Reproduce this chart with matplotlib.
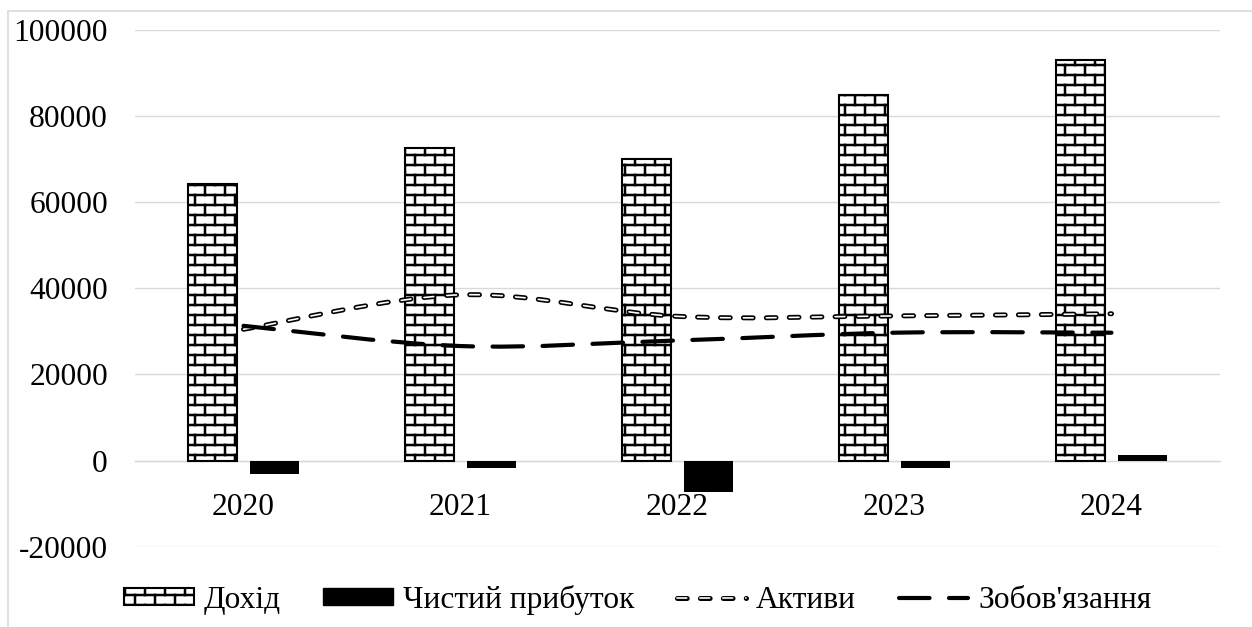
import warnings
import numpy as np
import matplotlib
matplotlib.use('Agg')
import matplotlib.pyplot as plt
from matplotlib import hatch as mhatch
from matplotlib.path import Path
from matplotlib.patches import PathPatch, Patch, Rectangle
from matplotlib.lines import Line2D

warnings.filterwarnings('ignore')

years = ['2020', '2021', '2022', '2023', '2024']
income = [64300, 72700, 70100, 84800, 93000]
net_profit = [-3100, -1800, -7400, -1700, 1400]
assets = [30500, 38500, 33500, 33600, 34100]
liabilities = [31300, 26600, 27900, 29700, 29700]
yticks = [-20000, 0, 20000, 40000, 60000, 80000, 100000]


# brick hatch: 'b' in the hatch string
class BrickHatch(mhatch.HatchPatternBase):
    def __init__(self, hatch, density):
        self.rows = 10 if 'b' in hatch else 0
        self.bricks = 5
        self.num_vertices = 0 if self.rows == 0 else (12 * self.rows + 10)

    def set_vertices_and_codes(self, vertices, codes):
        n, m = self.rows, self.bricks
        h = 1.0 / n
        segs = []
        ys = [(r + 0.5) * h for r in range(n)]
        for y in ys:
            segs.append(((0, y), (1, y)))
        for r in range(n):
            off = 0.25 if r % 2 == 0 else 0.75
            for c in range(m):
                x = (c + off) / m
                if r < n - 1:
                    segs.append(((x, ys[r]), (x, ys[r + 1])))
                else:
                    segs.append(((x, ys[r]), (x, 1.0)))
                    segs.append(((x, 0.0), (x, ys[0])))
        k = 0
        for a, b in segs:
            vertices[k] = a
            vertices[k + 1] = b
            codes[k] = Path.MOVETO
            codes[k + 1] = Path.LINETO
            k += 2


mhatch._hatch_types.append(BrickHatch)


def smooth_path(xs, ys):
    pts = list(zip(xs, ys))
    n = len(pts)
    verts = [pts[0]]
    codes = [Path.MOVETO]
    for i in range(n - 1):
        p0 = pts[i - 1] if i > 0 else pts[i]
        p1 = pts[i]
        p2 = pts[i + 1]
        p3 = pts[i + 2] if i + 2 < n else pts[i + 1]
        c1 = (p1[0] + (p2[0] - p0[0]) / 6, p1[1] + (p2[1] - p0[1]) / 6)
        c2 = (p2[0] - (p3[0] - p1[0]) / 6, p2[1] - (p3[1] - p1[1]) / 6)
        verts += [c1, c2, p2]
        codes += [Path.CURVE4] * 3
    return Path(verts, codes)


plt.rcParams['font.family'] = ['Liberation Serif', 'DejaVu Serif']
plt.rcParams['font.size'] = 22.7
plt.rcParams['axes.unicode_minus'] = False
plt.rcParams['hatch.linewidth'] = 1.8
plt.rcParams['lines.scale_dashes'] = False

fig = plt.figure(figsize=(12.52, 6.27), dpi=100)
ax = fig.add_axes([135 / 1252, 1 - 546.7 / 627, 1085 / 1252, 516.7 / 627])

x = np.arange(len(years))
w = 0.226
off = 0.143
ax.bar(x - off, income, w, facecolor='white', edgecolor='black', linewidth=1.5,
       hatch='b', zorder=3)
ax.bar(x + off, net_profit, w, color='black', zorder=3)

# Активи: hollow dashed line
a_dash = (7.0, 9.5)
ax.add_patch(PathPatch(smooth_path(x, assets), fill=False, edgecolor='black',
                       linewidth=3.6, linestyle=(0, a_dash), capstyle='round', zorder=4))
ax.add_patch(PathPatch(smooth_path(x, assets), fill=False, edgecolor='white',
                       linewidth=1.2, linestyle=(0, a_dash), capstyle='round', zorder=4.1))
# Зобов'язання: long dashes
l_dash = (22, 14)
ax.add_patch(PathPatch(smooth_path(x, liabilities), fill=False, edgecolor='black',
                       linewidth=3.0, linestyle=(0, l_dash), capstyle='round', zorder=4.2))

ax.set_xlim(-0.5, len(years) - 0.5)
ax.set_ylim(-20000, 100000)
ax.set_yticks(yticks)
ax.set_yticklabels([str(v) for v in yticks])
ax.set_xticks(x)
ax.set_xticklabels(years)
ax.tick_params(axis='y', length=0, pad=19.5)
ax.tick_params(axis='x', length=0, pad=23)
ax.grid(axis='y', color='#d9d9d9', linewidth=1.0)
ax.set_axisbelow(True)
for s in ['left', 'right', 'top']:
    ax.spines[s].set_visible(False)
ax.spines['bottom'].set_position(('data', 0))
ax.spines['bottom'].set_color('#d9d9d9')
ax.spines['bottom'].set_linewidth(1.0)

# outer chart border (only left/top visible in crop)
fig.patches.append(Rectangle((8 / 1252, -0.2), 2, 1.2 - 11 / 627, transform=fig.transFigure,
                             fill=False, edgecolor='#d9d9d9', linewidth=1.2))

h_income = Patch(facecolor='white', edgecolor='black', linewidth=1.5, hatch='b')
h_profit = Patch(facecolor='black', edgecolor='black')
h_assets = (Line2D([], [], color='black', linewidth=3.6, dashes=a_dash,
                   dash_capstyle='round'),
            Line2D([], [], color='white', linewidth=1.2, dashes=a_dash,
                   dash_capstyle='round'))
h_liab = Line2D([], [], color='black', linewidth=3.0, dashes=l_dash,
                dash_capstyle='round')
fig.legend([h_income, h_profit, h_assets, h_liab],
           ['Дохід', 'Чистий прибуток', 'Активи', "Зобов'язання"],
           loc='center', bbox_to_anchor=(0.5094, 0.043), ncol=4, frameon=False,
           handlelength=2.2, handleheight=0.45, handletextpad=0.32,
           columnspacing=1.35)

fig.savefig('out.png', dpi=100)
